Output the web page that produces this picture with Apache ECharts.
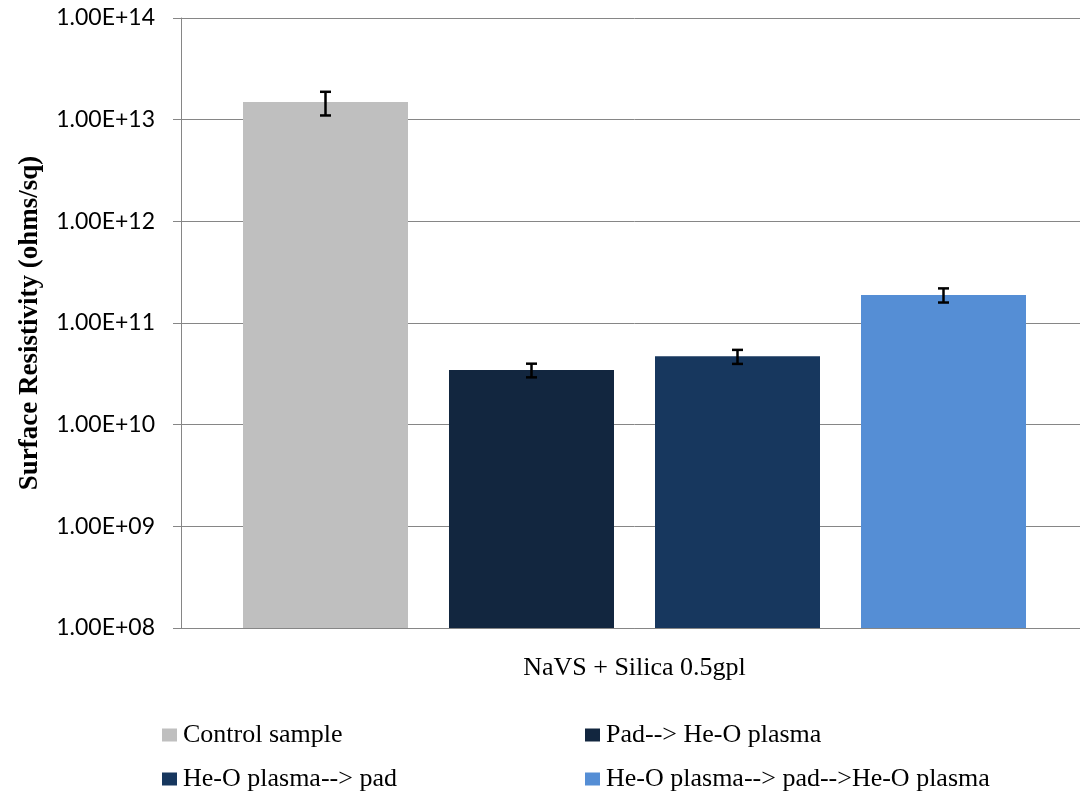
<!DOCTYPE html>
<html>
<head>
<meta charset="utf-8">
<script src="https://cdn.jsdelivr.net/npm/echarts@6/dist/echarts.min.js"></script>
<style>
  html, body { margin: 0; padding: 0; background: #fff; overflow: hidden; }
  #chart { width: 1088px; height: 797px; }
</style>
</head>
<body>
<div id="chart"></div>
<script>
// Surface resistivity of treated fabrics (log scale), mean ± error
const categories = ['NaVS + Silica 0.5gpl'];
const seriesNames = ['Control sample', 'Pad--> He-O plasma', 'He-O plasma--> pad', 'He-O plasma--> pad-->He-O plasma'];
const seriesValues = [1.49e13, 3.45e10, 4.7e10, 1.89e11];
const seriesErrors = [3.9e12, 5.3e9, 7.4e9, 3.0e10];
const seriesColors = ['#BFBFBF', '#12263F', '#17375E', '#558ED5'];
const yTicks = ['1.00E+08', '1.00E+09', '1.00E+10', '1.00E+11', '1.00E+12', '1.00E+13', '1.00E+14'];

const BAR_WIDTH = 165;
const BAR_GAP = 41;

function sciLabel(v) {
  const e = Math.round(Math.log10(v));
  const idx = e - 8;
  return yTicks[idx] !== undefined ? yTicks[idx] : '';
}

const barSeries = seriesNames.map((name, i) => ({
  name: name,
  type: 'bar',
  barWidth: BAR_WIDTH,
  barGap: (BAR_GAP / BAR_WIDTH * 100).toFixed(2) + '%',
  itemStyle: { color: seriesColors[i] },
  data: [seriesValues[i]],
  z: 2
}));

// error bars drawn over the bars, offset to each bar's slot within the category
const errorData = seriesValues.map((v, i) => [0, v - seriesErrors[i], v + seriesErrors[i], i]);
const errorSeries = {
  type: 'custom',
  z: 5,
  silent: true,
  data: errorData,
  encode: { x: 0, y: [1, 2] },
  renderItem: function (params, api) {
    const n = seriesNames.length;
    const idx = api.value(3);
    const offset = (idx - (n - 1) / 2) * (BAR_WIDTH + BAR_GAP);
    const lo = api.coord([api.value(0), api.value(1)]);
    const hi = api.coord([api.value(0), api.value(2)]);
    const x = lo[0] + offset;
    const cap = 5.5;
    const style = { stroke: '#000', lineWidth: 2.5 };
    return {
      type: 'group',
      children: [
        { type: 'line', shape: { x1: x, y1: hi[1], x2: x, y2: lo[1] }, style: style },
        { type: 'line', shape: { x1: x - cap, y1: hi[1], x2: x + cap, y2: hi[1] }, style: style },
        { type: 'line', shape: { x1: x - cap, y1: lo[1], x2: x + cap, y2: lo[1] }, style: style }
      ]
    };
  }
};

const legendPos = [
  { left: 162, top: 722 },
  { left: 585, top: 722 },
  { left: 162, top: 766 },
  { left: 585, top: 766 }
];
const legends = seriesNames.map((name, i) => ({
  data: [name],
  left: legendPos[i].left,
  top: legendPos[i].top,
  padding: 0,
  icon: 'rect',
  itemWidth: 15,
  itemHeight: 13,
  itemGap: 0,
  selectedMode: false,
  textStyle: { fontFamily: 'Liberation Serif', fontSize: 26, lineHeight: 26, color: '#000', padding: [0, 0, 0, 1] }
}));

const chart = echarts.init(document.getElementById('chart'), null, { renderer: 'canvas' });
chart.setOption({
  animation: false,
  backgroundColor: '#fff',
  grid: { left: 181, top: 18, width: 907, height: 610, containLabel: false },
  legend: legends,
  xAxis: {
    type: 'category',
    data: categories,
    axisLine: { lineStyle: { color: '#868686', width: 1 } },
    axisTick: { show: false },
    axisLabel: { fontFamily: 'Liberation Serif', fontSize: 26, color: '#000', margin: 27 }
  },
  yAxis: {
    type: 'log',
    logBase: 10,
    min: 1e8,
    max: 1e14,
    name: 'Surface Resistivity (ohms/sq)',
    nameLocation: 'middle',
    nameGap: 137,
    nameTextStyle: { fontFamily: 'Liberation Serif', fontWeight: 'bold', fontSize: 27, color: '#000' },
    axisLine: { show: true, lineStyle: { color: '#868686', width: 1 } },
    axisTick: { show: true, length: 8, lineStyle: { color: '#868686' } },
    axisLabel: { formatter: sciLabel, fontFamily: 'Lato', fontSize: 23, color: '#000', margin: 26 },
    splitLine: { show: true, lineStyle: { color: '#868686', width: 1 } },
    minorTick: { show: false },
    minorSplitLine: { show: false }
  },
  series: barSeries.concat([errorSeries])
});
</script>
</body>
</html>
